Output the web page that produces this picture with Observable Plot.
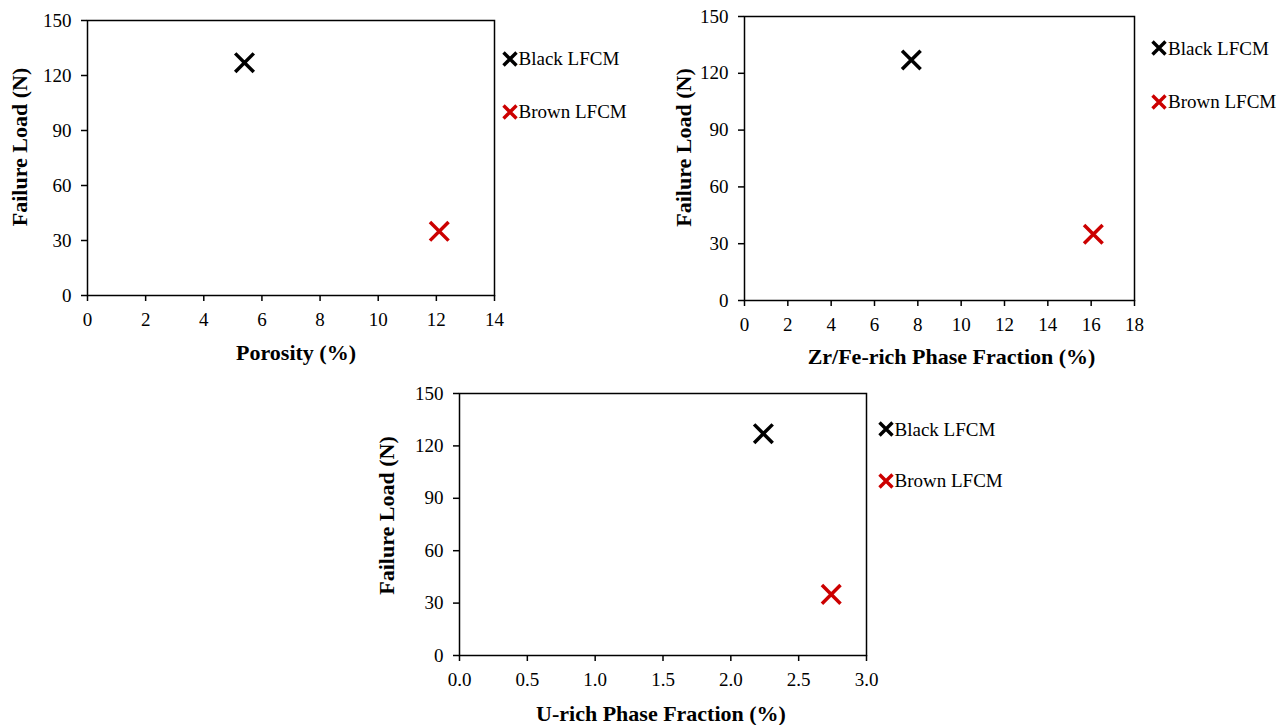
<!DOCTYPE html>
<html>
<head>
<meta charset="utf-8">
<script src="https://cdn.jsdelivr.net/npm/d3@7"></script>
<script src="https://cdn.jsdelivr.net/npm/@observablehq/plot@0.6"></script>
<style>
  html, body { margin: 0; padding: 0; background: #fff; }
  #chart { position: relative; width: 1288px; height: 725px; overflow: hidden; font-family: "Liberation Serif", "Times New Roman", serif; }
  .panel { position: absolute; }
  .legend-row { position: absolute; display: flex; align-items: center; font-size: 19px; color: #000; white-space: nowrap; line-height: 1; }
  .legend-row svg { display: block; margin-right: 1px; }
</style>
</head>
<body>
<div id="chart"></div>
<script>
// Sample series (two LFCM types) and their marker colours
const series = ["Black LFCM", "Brown LFCM"];
const seriesColors = ["#000000", "#cc0000"];

// Failure load (N) of each sample
const failureLoad = [127, 35];

// Microstructure measures (%) of each sample
const porosity = [5.4, 12.1];
const zrFeFraction = [7.7, 16.1];
const uFraction = [2.24, 2.74];

// Axis tick values
const yTicks = [0, 30, 60, 90, 120, 150];
const porosityTicks = [0, 2, 4, 6, 8, 10, 12, 14];
const zrFeTicks = [0, 2, 4, 6, 8, 10, 12, 14, 16, 18];
const uTicks = [0, 0.5, 1, 1.5, 2, 2.5, 3];

// Axis titles
const yTitle = "Failure Load (N)";
const porosityTitle = "Porosity (%)";
const zrFeTitle = "Zr/Fe-rich Phase Fraction (%)";
const uTitle = "U-rich Phase Fraction (%)";

// Panel layout: plot frame box in page pixels, title offsets, legend placement
const panels = [
  {xs: porosity, xTicks: porosityTicks, xFormat: d3.format("d"), xTitle: porosityTitle,
   frame: {x0: 87, x1: 494, y0: 20, y1: 295}, xTitleDx: 5, xTitleDy: 57, yTitleDx: -68, yTitleDy: -11,
   legend: {cx: 509.5, rows: [58.5, 111.5]}},
  {xs: zrFeFraction, xTicks: zrFeTicks, xFormat: d3.format("d"), xTitle: zrFeTitle,
   frame: {x0: 744, x1: 1134, y0: 16, y1: 300}, xTitleDx: 12, xTitleDy: 56, yTitleDx: -61, yTitleDy: -11,
   legend: {cx: 1159, rows: [48, 101.5]}},
  {xs: uFraction, xTicks: uTicks, xFormat: d3.format(".1f"), xTitle: uTitle,
   frame: {x0: 459, x1: 866, y0: 393, y1: 655}, xTitleDx: -2, xTitleDy: 58, yTitleDx: -73, yTitleDy: -9,
   legend: {cx: 885.5, rows: [429, 480.5]}}
];

const chart = document.getElementById("chart");
const ml = 80, mt = 10, mr = 20, mb = 80;

for (const p of panels) {
  const data = series.map((name, i) => ({name, x: p.xs[i], load: failureLoad[i]}));
  const fw = p.frame.x1 - p.frame.x0;
  const fh = p.frame.y1 - p.frame.y0;
  const xDomain = [p.xTicks[0], p.xTicks[p.xTicks.length - 1]];

  const plot = Plot.plot({
    width: fw + ml + mr,
    height: fh + mt + mb,
    marginLeft: ml, marginRight: mr, marginTop: mt, marginBottom: mb,
    style: {fontFamily: "Liberation Serif, Times New Roman, serif", fontSize: "19px", color: "#000", background: "transparent", overflow: "visible"},
    x: {domain: xDomain},
    y: {domain: [0, 150]},
    color: {domain: series, range: seriesColors},
    marks: [
      Plot.axisX({ticks: p.xTicks, tickFormat: p.xFormat, tickSize: 6, tickPadding: 11, label: null, strokeWidth: 1.5}),
      Plot.axisY({ticks: yTicks, tickSize: 6, tickPadding: 10, label: null, strokeWidth: 1.5}),
      Plot.frame({stroke: "#000", strokeWidth: 1.5}),
      Plot.dot(data, {x: "x", y: "load", symbol: "times", r: 8.5, stroke: "name", strokeWidth: 3.5}),
      Plot.text([p.xTitle], {frameAnchor: "bottom", dx: p.xTitleDx, dy: p.xTitleDy, lineAnchor: "middle",
        textAnchor: "middle", fontSize: 22, fontWeight: "bold", fill: "#000"}),
      Plot.text([yTitle], {frameAnchor: "left", dx: p.yTitleDx, dy: p.yTitleDy, rotate: -90, lineAnchor: "middle",
        textAnchor: "middle", fontSize: 22, fontWeight: "bold", fill: "#000"})
    ]
  });

  const wrap = document.createElement("div");
  wrap.className = "panel";
  wrap.style.left = (p.frame.x0 - ml) + "px";
  wrap.style.top = (p.frame.y0 - mt) + "px";
  wrap.appendChild(plot);
  chart.appendChild(wrap);

  // Legend: one row per series, an X marker followed by its name
  series.forEach((name, i) => {
    const row = document.createElement("div");
    row.className = "legend-row";
    row.style.left = (p.legend.cx - 8) + "px";
    row.style.top = (p.legend.rows[i] - 10) + "px";
    row.style.height = "20px";
    row.innerHTML = `<svg width="16" height="16" viewBox="0 0 16 16"><path d="M1.5,1.5L14.5,14.5M14.5,1.5L1.5,14.5" stroke="${seriesColors[i]}" stroke-width="3.4" fill="none"/></svg><span>${name}</span>`;
    chart.appendChild(row);
  });
}
</script>
</body>
</html>
